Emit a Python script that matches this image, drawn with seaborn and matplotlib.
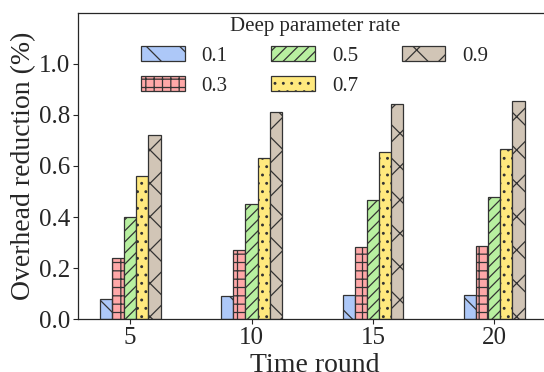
import matplotlib
matplotlib.use("Agg")
import matplotlib.pyplot as plt
import pandas as pd
import seaborn as sns

# data
rounds = ["5", "10", "15", "20"]
rates = ["0.1", "0.3", "0.5", "0.7", "0.9"]
rate_01 = [0.08, 0.09, 0.094, 0.096]
rate_03 = [0.24, 0.27, 0.282, 0.286]
rate_05 = [0.40, 0.45, 0.467, 0.477]
rate_07 = [0.56, 0.63, 0.653, 0.665]
rate_09 = [0.72, 0.81, 0.841, 0.855]

colors = ["#adc8f8", "#ffa8a8", "#b8f0a0", "#ffe97e", "#d1c5b6"]
hatches = ["\\", "++", "///", "..", "x"]

rows = []
for rate, vals in zip(rates, [rate_01, rate_03, rate_05, rate_07, rate_09]):
    for r, v in zip(rounds, vals):
        rows.append({"round": r, "rate": rate, "value": v})
df = pd.DataFrame(rows)

sns.set_theme(style="ticks")
plt.rcParams["font.family"] = ["Liberation Serif", "DejaVu Serif"]
plt.rcParams["hatch.linewidth"] = 0.9

fig = plt.figure(figsize=(5.44, 3.72), dpi=100)
# the reference is cropped on the right, so the right spine is not seen
ax = fig.add_axes([0.1434, 0.1417, 0.87, 0.8242])

sns.barplot(
    data=df, x="round", y="value", hue="rate",
    order=rounds, hue_order=rates, palette=colors, saturation=1,
    width=0.5, gap=0, edgecolor="#333333", linewidth=0.9,
    ax=ax, legend=False,
)

for container, hatch in zip(ax.containers, hatches):
    for bar in container:
        bar.set_hatch(hatch)

ax.set_xlim(-0.43, 3.47)
ax.set_ylim(0, 1.2)
ax.set_yticks([0.0, 0.2, 0.4, 0.6, 0.8, 1.0])
ax.set_yticklabels(["0.0", "0.2", "0.4", "0.6", "0.8", "1.0"])
ax.tick_params(axis="both", labelsize=18, length=3.5, width=0.8, pad=2)
ax.set_xlabel("Time round", fontsize=20, labelpad=3)
ax.set_ylabel("Overhead reduction (%)", fontsize=20, labelpad=2)
for s in ax.spines.values():
    s.set_linewidth(0.9)
ax.spines["right"].set_visible(False)

ax.legend(
    ax.containers, rates, title="Deep parameter rate",
    loc="upper center", bbox_to_anchor=(0.5, 1.013), ncol=3, frameon=False,
    fontsize=15, title_fontsize=15,
    handlelength=2.1, handletextpad=0.8, columnspacing=2.1,
    labelspacing=0.5, borderaxespad=0,
)

fig.savefig("out.png", dpi=100)
